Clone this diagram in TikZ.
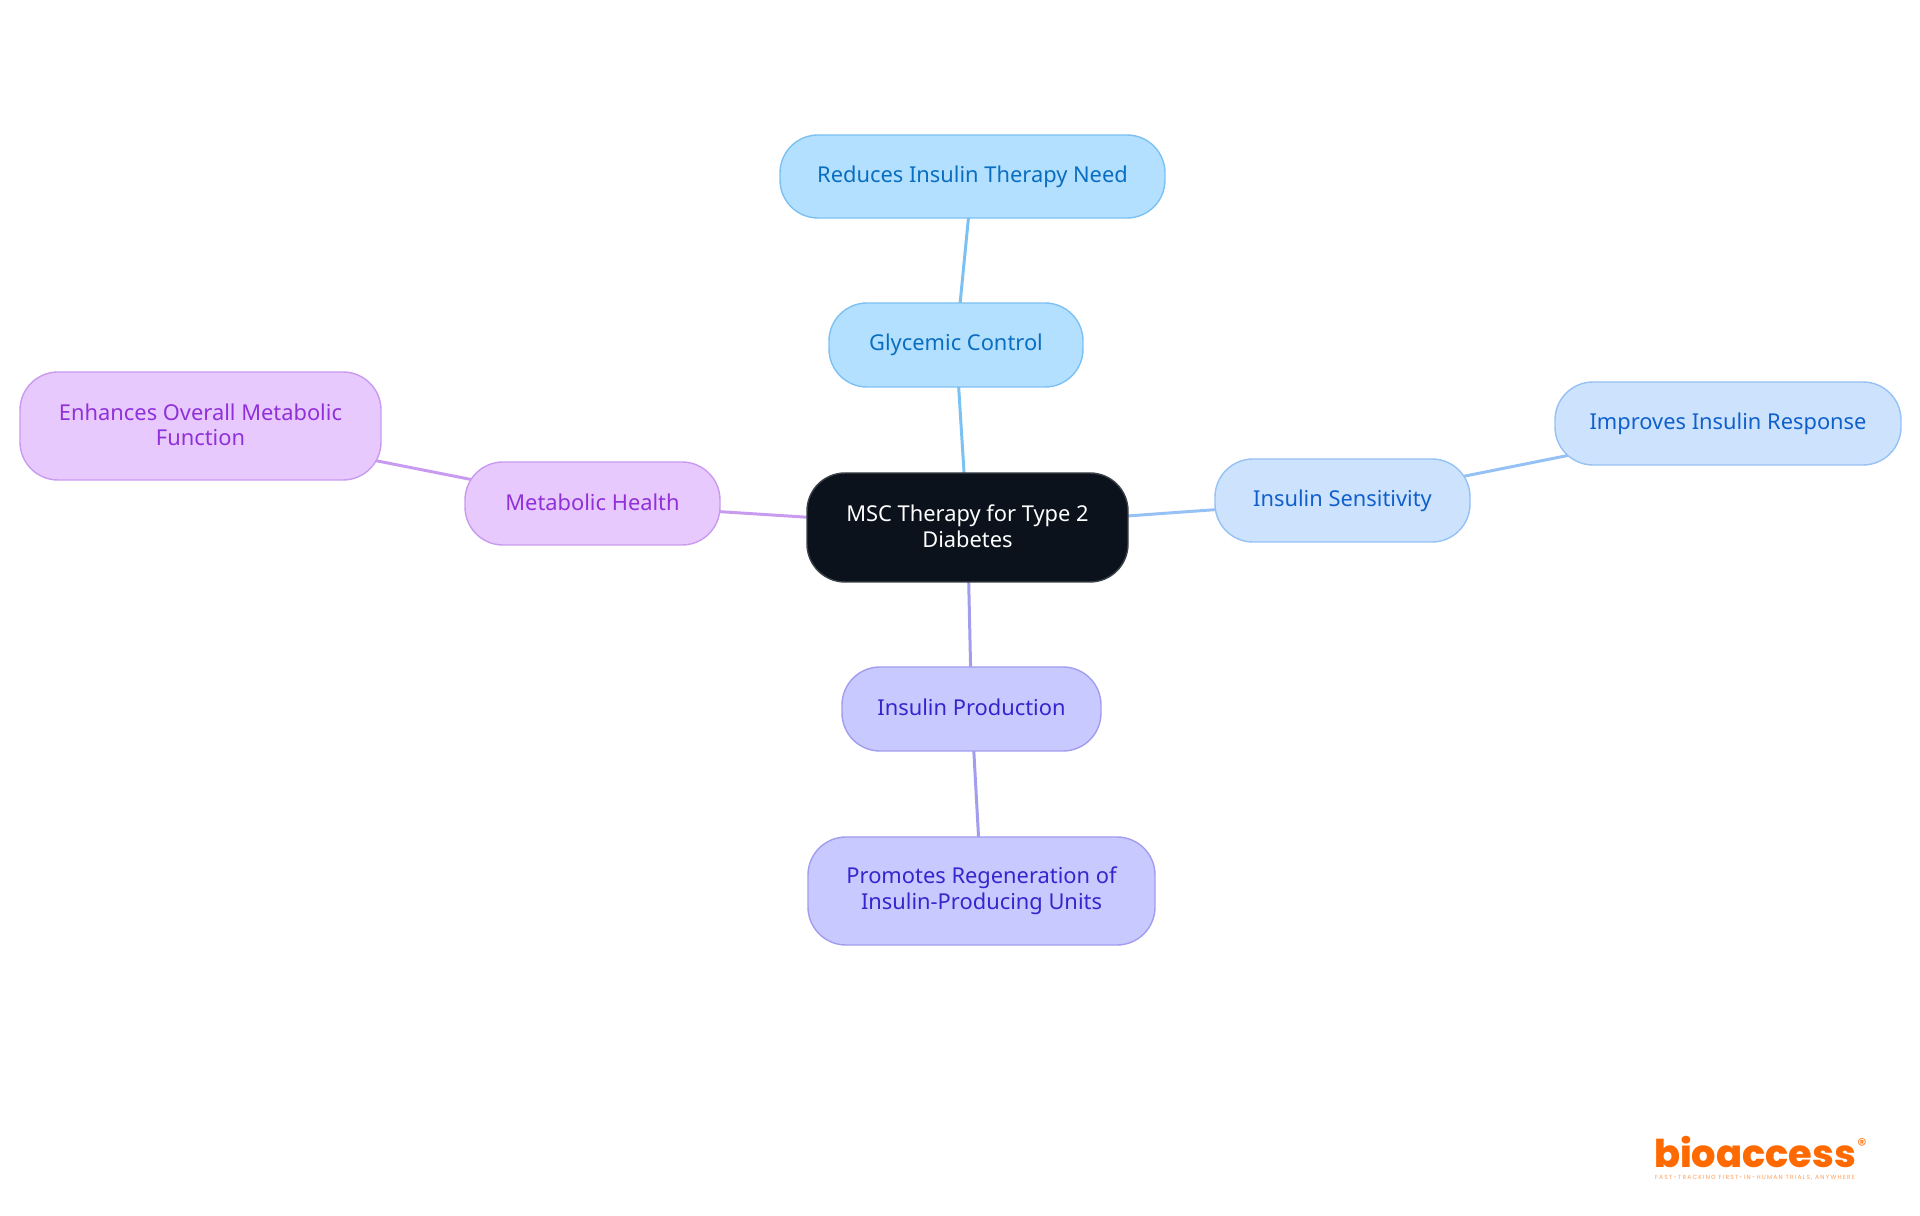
\documentclass[tikz,border=0pt]{standalone}
\usepackage{fontspec}
\usepackage{xcolor}
\setmainfont{Noto Sans}
\newfontfamily\logofont{Poppins}[BoldFont=Poppins ExtraBold]
\newfontfamily\tagfont{Poppins}[LetterSpace=20]
\usetikzlibrary{backgrounds}
\definecolor{rootfill}{HTML}{0B121B}
\definecolor{rootline}{HTML}{3C4248}
\definecolor{glyfill}{HTML}{B4E0FF}
\definecolor{glyline}{HTML}{7CC1F2}
\definecolor{glytext}{HTML}{0A6EC0}
\definecolor{sensfill}{HTML}{CDE3FD}
\definecolor{sensline}{HTML}{96C1F4}
\definecolor{senstext}{HTML}{1060CC}
\definecolor{prodfill}{HTML}{C8C9FF}
\definecolor{prodline}{HTML}{A29DEF}
\definecolor{prodtext}{HTML}{3525CD}
\definecolor{metafill}{HTML}{E8C9FD}
\definecolor{metaline}{HTML}{C99BF0}
\definecolor{metatext}{HTML}{9030D8}
\definecolor{logoorange}{HTML}{FF6A00}
\tikzset{
  mapnode/.style={rectangle,rounded corners=0.38cm,line width=0.4pt,align=center,
    inner sep=0pt,font=\fontsize{6.22pt}{7.25pt}\selectfont,
    execute at begin node={\vphantom{A}},execute at end node={\rule[-0.8pt]{0pt}{0.8pt}}},
  rootnode/.style={mapnode,fill=rootfill,draw=rootline,text=white},
  glynode/.style={mapnode,fill=glyfill,draw=glyline,text=glytext},
  sensnode/.style={mapnode,fill=sensfill,draw=sensline,text=senstext},
  prodnode/.style={mapnode,fill=prodfill,draw=prodline,text=prodtext},
  metanode/.style={mapnode,fill=metafill,draw=metaline,text=metatext},
  branch/.style={line width=0.85pt}
}
\begin{document}
\begin{tikzpicture}
\useasboundingbox (0,0) rectangle (19.2,12.15);
\node[rootnode,minimum width=3.21cm,minimum height=1.09cm] (root) at (9.675,6.875) {MSC Therapy for Type 2\\Diabetes};
\node[glynode,minimum width=2.54cm,minimum height=0.84cm] (gly) at (9.56,8.70) {Glycemic Control};
\node[glynode,minimum width=3.85cm,minimum height=0.83cm] (glyleaf) at (9.725,10.385) {Reduces Insulin Therapy Need};
\node[sensnode,minimum width=2.55cm,minimum height=0.83cm] (sens) at (13.425,7.145) {Insulin Sensitivity};
\node[sensnode,minimum width=3.46cm,minimum height=0.83cm] (sensleaf) at (17.28,7.915) {Improves Insulin Response};
\node[prodnode,minimum width=2.59cm,minimum height=0.84cm] (prod) at (9.715,5.06) {Insulin Production};
\node[prodnode,minimum width=3.47cm,minimum height=1.08cm] (prodleaf) at (9.815,3.24) {Promotes Regeneration of\\Insulin-Producing Units};
\node[metanode,minimum width=2.55cm,minimum height=0.83cm] (meta) at (5.925,7.115) {Metabolic Health};
\node[metanode,minimum width=3.61cm,minimum height=1.08cm] (metaleaf) at (2.005,7.89) {Enhances Overall Metabolic\\Function};
\begin{scope}[on background layer]
 \draw[branch,glyline] (root.center) -- (gly.center);
 \draw[branch,glyline] (gly.center) -- (glyleaf.center);
 \draw[branch,sensline] (root.center) -- (sens.center);
 \draw[branch,sensline] (sens.center) -- (sensleaf.center);
 \draw[branch,prodline] (root.center) -- (prod.center);
 \draw[branch,prodline] (prod.center) -- (prodleaf.center);
 \draw[branch,metaline] (root.center) -- (meta.center);
 \draw[branch,metaline] (meta.center) -- (metaleaf.center);
\end{scope}
% logo
\node[text=logoorange,inner sep=0pt,font=\logofont\bfseries\fontsize{10.9pt}{12pt}\selectfont] (logo) at (17.55,0.63) {bioaccess};
\node[text=logoorange,inner sep=0pt,font=\logofont\fontsize{5.2pt}{6pt}\selectfont] (logomark) at (18.62,0.7) {®};
\node[text=logoorange!65,inner sep=0pt,font=\tagfont\fontsize{1.7pt}{2pt}\selectfont] (logotag) at (17.55,0.37) {FAST-TRACKING FIRST-IN-HUMAN TRIALS, ANYWHERE};
\end{tikzpicture}
\end{document}
